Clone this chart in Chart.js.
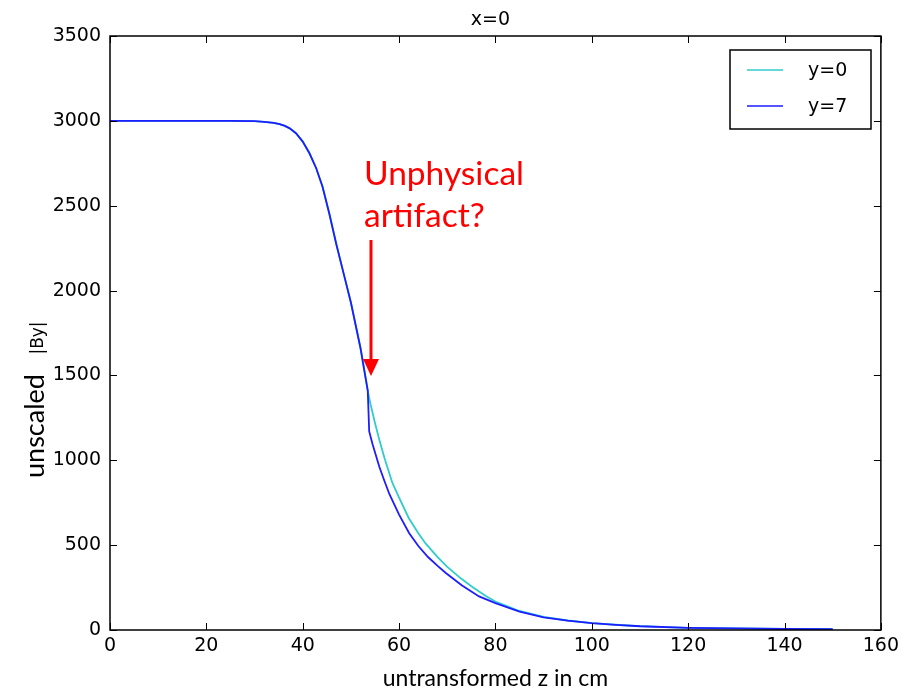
<!DOCTYPE html>
<html>
<head>
<meta charset="utf-8">
<title>x=0</title>
<script src="https://cdn.jsdelivr.net/npm/chart.js@4/dist/chart.umd.min.js"></script>
<style>
    html, body { margin: 0; padding: 0; background: #fff; }
    #wrap { width: 904px; height: 690px; }
</style>
</head>
<body>
<div id="wrap"><canvas id="byChart" width="904" height="690"></canvas></div>
<script>
// Series labels
const seriesLabels = ['y=0', 'y=7'];

// y=0 curve
const cyanZ = [0, 10, 20, 25, 30, 32, 34, 35.2, 36.3, 37.3, 38.6, 40, 41.4, 42.8, 44.1, 45.5, 47, 48.5, 50, 52, 53.5, 54, 55, 56, 57, 58.6, 60, 62, 64, 65.5, 68, 70, 73, 75, 78, 80, 85, 90, 95, 100, 105, 110, 120, 130, 140, 150];
const cyanB = [3000, 3000, 3000, 3000, 2998, 2994, 2988, 2981, 2970, 2956, 2927, 2878, 2809, 2721, 2613, 2456, 2270, 2100, 1930, 1660, 1410, 1340, 1220, 1110, 1010, 868, 780, 660, 570, 510, 430, 372, 300, 258, 200, 168, 112, 77, 56, 41, 31, 23, 13, 9, 6, 5];

// y=7 curve, with the jump near z=54
const blueZ = [0, 10, 20, 25, 30, 32, 34, 35.2, 36.3, 37.3, 38.6, 40, 41.4, 42.8, 44.1, 45.5, 47, 48.5, 50, 52, 53.5, 53.8, 54.5, 55.9, 57, 58, 60, 62.1, 64, 66, 68, 69.7, 73, 76.6, 80, 85, 90, 95, 100, 105, 110, 120, 130, 140, 150];
const blueB = [3000, 3000, 3000, 3000, 2998, 2994, 2988, 2981, 2970, 2956, 2927, 2878, 2809, 2721, 2613, 2456, 2270, 2100, 1930, 1660, 1410, 1170, 1095, 962, 875, 800, 680, 570, 495, 430, 378, 336, 264, 198, 158, 108, 75, 55, 40, 30, 22, 13, 9, 6, 5];

// Axis ticks
const xTicks = [0, 20, 40, 60, 80, 100, 120, 140, 160];
const yTicks = [0, 500, 1000, 1500, 2000, 2500, 3000, 3500];

const cyanColor = '#2fcccc';
const blueColor = '#1d1dff';

function toPoints(xs, ys) {
    return xs.map((x, i) => ({ x: x, y: ys[i] }));
}

// Frame, inward ticks, titles, legend and annotation
const decorPlugin = {
    id: 'decor',
    afterDraw(chart) {
        const c = chart.ctx;
        const a = chart.chartArea;
        const xs = chart.scales.x;
        const ys = chart.scales.y;
        c.save();

        // ticks on all four sides
        c.strokeStyle = '#000';
        c.lineWidth = 1;
        c.beginPath();
        xTicks.forEach(v => {
            const px = Math.round(xs.getPixelForValue(v)) + 0.5;
            c.moveTo(px, a.bottom); c.lineTo(px, a.bottom - 7);
            c.moveTo(px, a.top); c.lineTo(px, a.top + 7);
        });
        yTicks.forEach(v => {
            const py = Math.round(ys.getPixelForValue(v)) + 0.5;
            c.moveTo(a.left, py); c.lineTo(a.left + 7, py);
            c.moveTo(a.right, py); c.lineTo(a.right - 7, py);
        });
        c.stroke();

        // frame
        c.lineWidth = 1.5;
        c.strokeRect(a.left, a.top, a.right - a.left, a.bottom - a.top);

        // title
        c.fillStyle = '#000';
        c.textAlign = 'center';
        c.textBaseline = 'alphabetic';
        c.font = '19px "DejaVu Sans"';
        c.fillText('x=0', (a.left + a.right) / 2 - 5, 25);

        // x axis title
        c.font = '23px Lato';
        c.fillText('untransformed z in cm', (a.left + a.right) / 2, 686);

        // y axis title, two parts
        c.save();
        c.translate(44, 426);
        c.rotate(-Math.PI / 2);
        c.textAlign = 'center';
        c.font = '27px Lato';
        c.fillText('unscaled', 0, 0);
        c.font = '17px "DejaVu Sans"';
        c.fillText('|By|', 88, -1);
        c.restore();

        // legend
        const lx = 730, ly = 50, lw = 141, lh = 79;
        c.fillStyle = '#fff';
        c.fillRect(lx, ly, lw, lh);
        c.lineWidth = 1.5;
        c.strokeStyle = '#000';
        c.strokeRect(lx, ly, lw, lh);
        [cyanColor, blueColor].forEach((col, i) => {
            const yy = 70 + i * 36;
            c.strokeStyle = col;
            c.lineWidth = 1.5;
            c.beginPath();
            c.moveTo(747, yy); c.lineTo(783, yy);
            c.stroke();
            c.fillStyle = '#000';
            c.textAlign = 'left';
            c.textBaseline = 'middle';
            c.font = '19px "DejaVu Sans"';
            c.fillText(seriesLabels[i], 808, yy + 1);
        });

        // annotation
        c.fillStyle = '#ff0000';
        c.textAlign = 'left';
        c.textBaseline = 'alphabetic';
        c.font = '33.5px Lato';
        c.fillText('Unphysical', 364, 185);
        c.fillText('artifact?', 364, 227);
        c.strokeStyle = '#ff0000';
        c.lineWidth = 3;
        c.beginPath();
        c.moveTo(371, 240); c.lineTo(371, 360);
        c.stroke();
        c.beginPath();
        c.moveTo(363, 359); c.lineTo(379, 359); c.lineTo(371, 376);
        c.closePath();
        c.fill();

        c.restore();
    }
};

function initializeChart() {
    const ctx = document.getElementById('byChart');

    new Chart(ctx, {
        type: 'line',
        data: {
            datasets: [
                {
                    label: seriesLabels[0],
                    data: toPoints(cyanZ, cyanB),
                    borderColor: cyanColor,
                    borderWidth: 1.8,
                    pointRadius: 0,
                    fill: false,
                    tension: 0,
                    order: 1
                },
                {
                    label: seriesLabels[1],
                    data: toPoints(blueZ, blueB),
                    borderColor: blueColor,
                    borderWidth: 1.8,
                    pointRadius: 0,
                    fill: false,
                    tension: 0,
                    order: 0
                }
            ]
        },
        options: {
            responsive: false,
            animation: false,
            layout: {
                padding: { left: 0, right: 21, top: 36, bottom: 0 }
            },
            plugins: {
                legend: { display: false },
                title: { display: false },
                tooltip: { enabled: false }
            },
            scales: {
                x: {
                    type: 'linear',
                    min: 0,
                    max: 160,
                    afterBuildTicks: s => { s.ticks = xTicks.map(v => ({ value: v })); },
                    afterFit: s => { s.height = 60; },
                    grid: { display: false, drawTicks: false },
                    border: { display: false },
                    ticks: {
                        color: '#000',
                        padding: 5,
                        maxRotation: 0,
                        callback: v => String(v),
                        font: { family: 'DejaVu Sans', size: 19 }
                    }
                },
                y: {
                    type: 'linear',
                    min: 0,
                    max: 3500,
                    afterBuildTicks: s => { s.ticks = yTicks.map(v => ({ value: v })); },
                    afterFit: s => { s.width = 110; },
                    grid: { display: false, drawTicks: false },
                    border: { display: false },
                    ticks: {
                        color: '#000',
                        padding: 9,
                        callback: v => String(v),
                        font: { family: 'DejaVu Sans', size: 19 }
                    }
                }
            }
        },
        plugins: [decorPlugin]
    });
}

document.addEventListener('DOMContentLoaded', initializeChart);
</script>
</body>
</html>
